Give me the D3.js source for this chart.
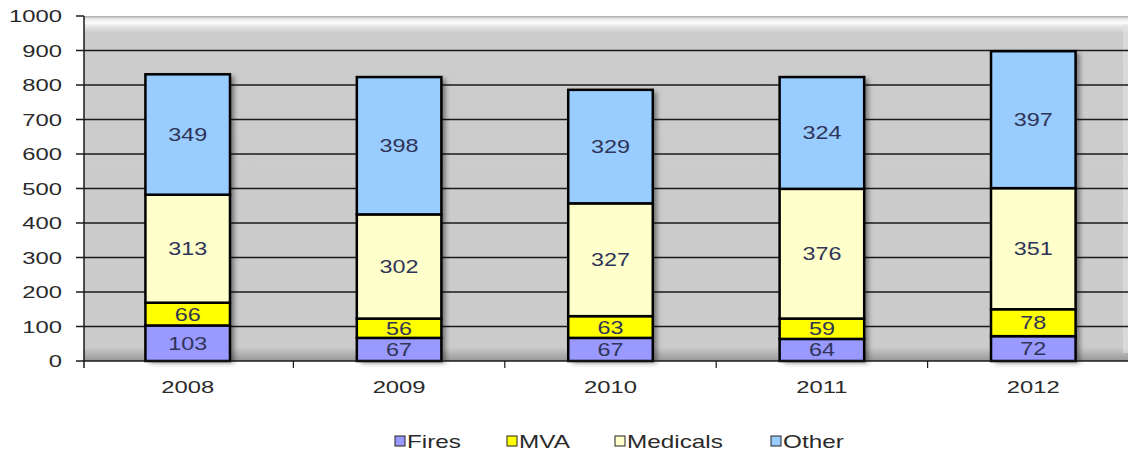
<!DOCTYPE html>
<html>
<head>
<meta charset="utf-8">
<script src="https://cdn.jsdelivr.net/npm/d3@7"></script>
<style>
  html, body { margin: 0; padding: 0; background: #fff; }
  svg { display: block; font-family: "Liberation Sans", Arial, sans-serif; }
</style>
</head>
<body>
<div id="chart"></div>
<script>
// DATA
const years = ["2008", "2009", "2010", "2011", "2012"];
const fires = [103, 67, 67, 64, 72];
const mva = [66, 56, 63, 59, 78];
const medicals = [313, 302, 327, 376, 351];
const other = [349, 398, 329, 324, 397];
const seriesNames = ["Fires", "MVA", "Medicals", "Other"];
const seriesColors = ["#9999ff", "#ffff00", "#ffffcc", "#99ccff"];
const yTicks = [0, 100, 200, 300, 400, 500, 600, 700, 800, 900, 1000];

const W = 1129, H = 455;
const plotLeft = 84, plotRight = 1128, plotTop = 16, plotBottom = 361;
const SX = 1.4; // the original picture is stretched sideways

const rows = years.map((y, i) => ({
  year: y, Fires: fires[i], MVA: mva[i], Medicals: medicals[i], Other: other[i]
}));

const svg = d3.select("#chart").append("svg")
  .attr("width", W).attr("height", H);

const defs = svg.append("defs");

// plot background gradient (light top edge, darker floor)
const bg = defs.append("linearGradient").attr("id", "bgGrad")
  .attr("x1", 0).attr("y1", 0).attr("x2", 0).attr("y2", 1);
bg.append("stop").attr("offset", "0%").attr("stop-color", "#a8a8a8");
bg.append("stop").attr("offset", "0.8%").attr("stop-color", "#e8e8e8");
bg.append("stop").attr("offset", "2%").attr("stop-color", "#fbfbfb");
bg.append("stop").attr("offset", "3.5%").attr("stop-color", "#dedede");
bg.append("stop").attr("offset", "5%").attr("stop-color", "#cccccc");
bg.append("stop").attr("offset", "96%").attr("stop-color", "#cbcbcb");
bg.append("stop").attr("offset", "99%").attr("stop-color", "#a4a4a4");
bg.append("stop").attr("offset", "100%").attr("stop-color", "#959595");

const shadow = defs.append("filter").attr("id", "barShadow")
  .attr("x", "-20%").attr("y", "-10%").attr("width", "150%").attr("height", "130%");
shadow.append("feDropShadow")
  .attr("dx", 4).attr("dy", 2).attr("stdDeviation", 2.5)
  .attr("flood-color", "#000").attr("flood-opacity", 0.45);

// SCALES
const x = d3.scaleBand()
  .domain(years)
  .range([82, 1139])
  .paddingInner(0.6)
  .paddingOuter(0.3);

const y = d3.scaleLinear()
  .domain([0, 1000])
  .range([plotBottom, plotTop]);

// PLOT AREA
svg.append("rect")
  .attr("x", plotLeft).attr("y", plotTop)
  .attr("width", plotRight - plotLeft).attr("height", plotBottom - plotTop)
  .attr("fill", "url(#bgGrad)");

// right side highlight
svg.append("rect")
  .attr("x", plotRight - 5).attr("y", plotTop + 8)
  .attr("width", 5).attr("height", plotBottom - plotTop - 16)
  .attr("fill", "#e2e2e2").attr("opacity", 0.6);

// GRIDLINES
svg.append("g")
  .selectAll("line")
  .data(yTicks.filter((d) => d > 0 && d < 1000))
  .join("line")
  .attr("x1", 76).attr("x2", plotRight)
  .attr("y1", (d) => y(d)).attr("y2", (d) => y(d))
  .attr("stroke", "#1a1a1a").attr("stroke-width", 1.5);

// tick for 1000
svg.append("line")
  .attr("x1", 76).attr("x2", plotLeft)
  .attr("y1", y(1000)).attr("y2", y(1000))
  .attr("stroke", "#1a1a1a").attr("stroke-width", 1.5);

// Y AXIS LABELS
svg.append("g")
  .selectAll("text")
  .data(yTicks)
  .join("text")
  .attr("transform", (d) => `translate(62,${y(d) + 6}) scale(${SX},1)`)
  .attr("text-anchor", "end")
  .style("font-size", "17px")
  .style("fill", "#2a2a2a")
  .text((d) => d);

// STACKED BARS
const stack = d3.stack().keys(seriesNames);
const layers = stack(rows);

const barGroup = svg.append("g");

// shadow underlay per whole bar
barGroup.selectAll("rect.shadow")
  .data(rows)
  .join("rect")
  .attr("class", "shadow")
  .attr("x", (d) => x(d.year))
  .attr("y", (d) => y(d.Fires + d.MVA + d.Medicals + d.Other))
  .attr("width", x.bandwidth())
  .attr("height", (d) => plotBottom - y(d.Fires + d.MVA + d.Medicals + d.Other))
  .attr("fill", "#888")
  .attr("filter", "url(#barShadow)");

layers.forEach((layer, li) => {
  barGroup.append("g")
    .selectAll("rect")
    .data(layer)
    .join("rect")
    .attr("x", (d) => x(d.data.year))
    .attr("y", (d) => y(d[1]))
    .attr("width", x.bandwidth())
    .attr("height", (d) => y(d[0]) - y(d[1]))
    .attr("fill", seriesColors[li])
    .attr("stroke", "#000")
    .attr("stroke-width", 2.5);
});

// VALUE LABELS
layers.forEach((layer) => {
  barGroup.append("g")
    .selectAll("text")
    .data(layer)
    .join("text")
    .attr("transform", (d) =>
      `translate(${x(d.data.year) + x.bandwidth() / 2},${(y(d[0]) + y(d[1])) / 2 + 6.5}) scale(1.3,1)`)
    .attr("text-anchor", "middle")
    .style("font-size", "18px")
    .style("fill", "#2f3458")
    .text((d) => d[1] - d[0]);
});

// X AXIS
svg.append("line")
  .attr("x1", 76).attr("x2", plotRight)
  .attr("y1", plotBottom).attr("y2", plotBottom)
  .attr("stroke", "#1a1a1a").attr("stroke-width", 1.5);

svg.append("line")
  .attr("x1", plotLeft).attr("x2", plotLeft)
  .attr("y1", plotTop).attr("y2", plotBottom + 7)
  .attr("stroke", "#1a1a1a").attr("stroke-width", 1.5);

// category separator ticks
svg.append("g")
  .selectAll("line")
  .data(years.slice(1))
  .join("line")
  .attr("x1", (d) => x(d) - x.step() * x.paddingInner() / 2)
  .attr("x2", (d) => x(d) - x.step() * x.paddingInner() / 2)
  .attr("y1", plotBottom).attr("y2", plotBottom + 7)
  .attr("stroke", "#1a1a1a").attr("stroke-width", 1.2);

svg.append("g")
  .selectAll("text")
  .data(years)
  .join("text")
  .attr("transform", (d) => `translate(${x(d) + x.bandwidth() / 2},393) scale(${SX},1)`)
  .attr("text-anchor", "middle")
  .style("font-size", "17px")
  .style("fill", "#2a2a2a")
  .text((d) => d);

// LEGEND
const legendX = [395, 507, 615, 771];
const legend = svg.append("g");

seriesNames.forEach((name, i) => {
  legend.append("rect")
    .attr("x", legendX[i]).attr("y", 436)
    .attr("width", 10).attr("height", 10)
    .attr("fill", seriesColors[i])
    .attr("stroke", "#222").attr("stroke-width", 1);
  legend.append("text")
    .attr("transform", `translate(${legendX[i] + 12},448) scale(1.35,1)`)
    .style("font-size", "18px")
    .style("fill", "#2a2a2a")
    .text(name);
});
</script>
</body>
</html>
